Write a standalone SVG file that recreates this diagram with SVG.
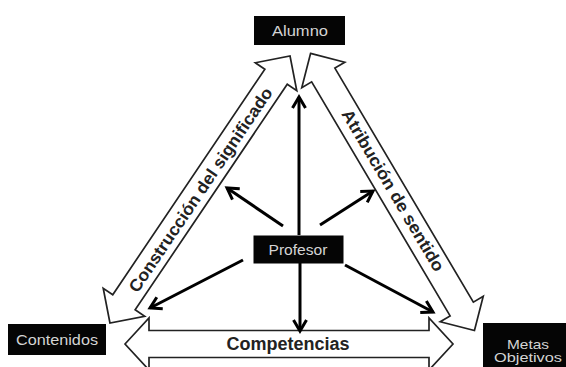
<svg xmlns="http://www.w3.org/2000/svg" width="566" height="367" viewBox="0 0 566 367">
<defs>
<style>
.box{fill:#050505;}
.lbl{font-family:"Liberation Sans",Arial,sans-serif;font-size:14px;fill:#d4d4d4;text-anchor:middle;}
.blk{fill:#fff;stroke:#222;stroke-width:1.7;stroke-linejoin:miter;}
.arrtxt{font-family:"Liberation Sans",Arial,sans-serif;font-weight:bold;font-size:17px;fill:#222;text-anchor:middle;dominant-baseline:central;}
.ln{stroke:#000;stroke-width:3;fill:none;marker-end:url(#ah);}
</style>
<marker id="ah" markerUnits="userSpaceOnUse" markerWidth="16" markerHeight="16" viewBox="0 0 16 16" refX="13" refY="8" orient="auto">
<path d="M2,1.5 L13,8 L2,14.5" fill="none" stroke="#000" stroke-width="3"/>
</marker>
<polygon id="dbl" points="-161,0 -136,-25 -136,-13.5 136,-13.5 136,-25 161,0 136,25 136,13.5 -136,13.5 -136,25"/>
</defs>
<g id="connectors">
<g id="arrow-construccion" transform="translate(200,189.5) rotate(-56)">
<use href="#dbl" class="blk"/>
<text class="arrtxt" x="0" y="1" textLength="243" lengthAdjust="spacingAndGlyphs">Construcción del significado</text>
</g>
<g id="arrow-atribucion" transform="translate(392.5,192) rotate(59.4)">
<use href="#dbl" class="blk"/>
<text class="arrtxt" x="-1" y="-1" textLength="185" lengthAdjust="spacingAndGlyphs">Atribución de sentido</text>
</g>
<g id="arrow-competencias">
<polygon class="blk" points="125,344 149,318 149,330.5 429,330.5 429,318 453,344 429,370 429,357.5 149,357.5 149,370"/>
<text class="arrtxt" x="288" y="344" textLength="123" lengthAdjust="spacingAndGlyphs" style="font-size:18px">Competencias</text>
</g>
<line class="ln" x1="299" y1="235" x2="299" y2="97"/>
<line class="ln" x1="283" y1="226" x2="227" y2="188"/>
<line class="ln" x1="320" y1="225" x2="373" y2="191"/>
<line class="ln" x1="243" y1="260" x2="150" y2="308"/>
<line class="ln" x1="300" y1="263" x2="300" y2="331"/>
<line class="ln" x1="345" y1="265" x2="433" y2="312"/>
</g>
<g id="alumno">
<rect class="box" x="254" y="16" width="91" height="29"/>
<text class="lbl" x="300" y="35.5" textLength="56" lengthAdjust="spacingAndGlyphs">Alumno</text>
</g>
<g id="profesor">
<rect class="box" x="253.5" y="235.5" width="90" height="28"/>
<text class="lbl" x="298" y="254.5" textLength="59" lengthAdjust="spacingAndGlyphs">Profesor</text>
</g>
<g id="contenidos">
<rect class="box" x="8" y="324" width="98" height="31"/>
<text class="lbl" x="57" y="344.5" textLength="82" lengthAdjust="spacingAndGlyphs">Contenidos</text>
</g>
<g id="metas">
<rect class="box" x="483" y="323" width="83" height="44"/>
<text class="lbl" x="528" y="348.5" style="font-size:13px" textLength="42" lengthAdjust="spacingAndGlyphs">Metas</text>
<text class="lbl" x="528" y="362" style="font-size:13px" textLength="68" lengthAdjust="spacingAndGlyphs">Objetivos</text>
</g>
</svg>
